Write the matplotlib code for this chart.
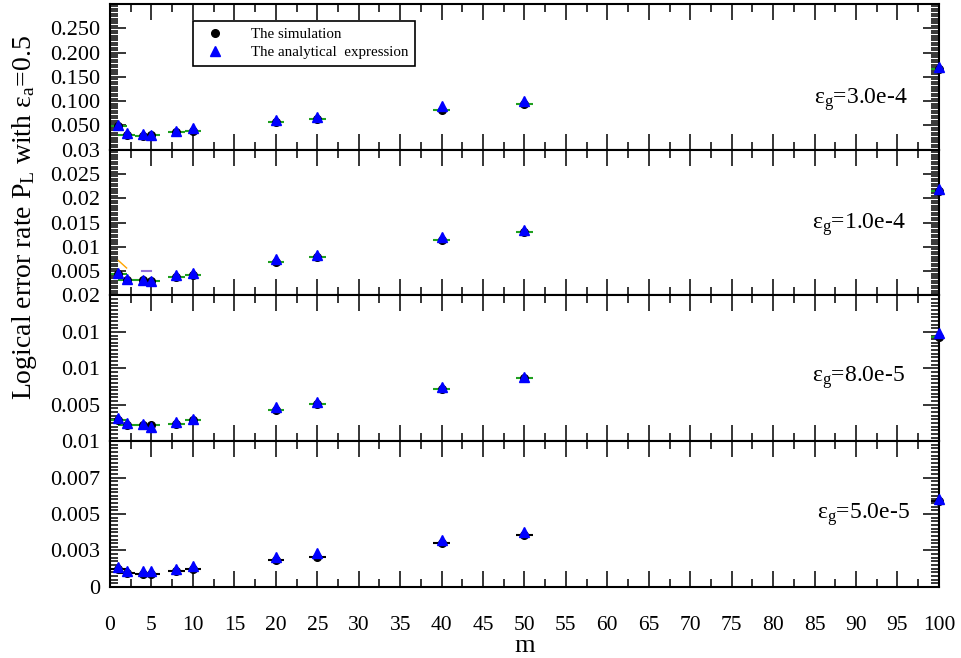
import numpy as np
import matplotlib
matplotlib.use('Agg')
import matplotlib.pyplot as plt
from matplotlib.ticker import FixedLocator, FixedFormatter, MultipleLocator, AutoMinorLocator

plt.rcParams['font.family'] = 'Liberation Serif'
plt.rcParams['mathtext.fontset'] = 'custom'
plt.rcParams['mathtext.rm'] = 'Liberation Serif'
plt.rcParams['mathtext.it'] = 'Liberation Serif:italic'

# m values
m = np.array([1, 2, 4, 5, 8, 10, 20, 25, 40, 50, 100])

# eps_g = 3.0e-4
sim_30e5 = [0.048, 0.031, 0.029, 0.030, 0.036, 0.039, 0.0565, 0.0635, 0.082, 0.0945, 0.166]
ana_30e5 = [0.050, 0.035, 0.0325, 0.030, 0.038, 0.045, 0.061, 0.068, 0.0896, 0.1007, 0.170]
# eps_g = 1.0e-4
sim_10e5 = [0.0044, 0.0031, 0.0031, 0.0029, 0.0038, 0.0043, 0.0069, 0.0079, 0.0114, 0.0130, 0.0215]
ana_10e5 = [0.0047, 0.00345, 0.00324, 0.0029, 0.0043, 0.0046, 0.0074, 0.0083, 0.0121, 0.01345, 0.0219]
# eps_g = 8.0e-5
sim_8e5 = [0.00286, 0.00227, 0.0022, 0.0022, 0.0024, 0.00286, 0.0043, 0.0051, 0.0072, 0.0087, 0.0143]
ana_8e5 = [0.00317, 0.00249, 0.0024, 0.00195, 0.0026, 0.0031, 0.00467, 0.00535, 0.0075, 0.0088, 0.01487]
# eps_g = 5.0e-5
sim_5e5 = [0.00121, 0.00098, 0.00089, 0.00087, 0.00112, 0.00121, 0.00185, 0.00208, 0.0030, 0.00356, 0.0059]
ana_5e5 = [0.00135, 0.00112, 0.0011, 0.0011, 0.00121, 0.00144, 0.00203, 0.0023, 0.0032, 0.0038, 0.0060]

# stray segments in the 1.0e-4 panel
orange_x = [1, 2]
orange_y = [0.0072, 0.00565]
purple_x = [3.9, 4.9]
purple_y = [0.0051, 0.0051]

panels = [
    (sim_30e5, ana_30e5, 'green', r'$\mathrm{\varepsilon_g}$=3.0e-4', 0.3,
     [0, 0.05, 0.1, 0.15, 0.2, 0.25, 0.3], ['', '0.050', '0.100', '0.150', '0.200', '0.250', ''],
     (0.849, 0.315)),
    (sim_10e5, ana_10e5, 'green', r'$\mathrm{\varepsilon_g}$=1.0e-4', 0.03,
     [0, 0.005, 0.01, 0.015, 0.02, 0.025, 0.03], ['', '0.005', '0.01', '0.015', '0.02', '0.025', '0.03'],
     (0.847, 0.46)),
    (sim_8e5, ana_8e5, 'green', r'$\mathrm{\varepsilon_g}$=8.0e-5', 0.02,
     [0, 0.005, 0.01, 0.015, 0.02], ['', '0.005', '0.01', '0.01', '0.02'],
     (0.847, 0.41)),
    (sim_5e5, ana_5e5, 'black', r'$\mathrm{\varepsilon_g}$=5.0e-5', 0.01,
     [0, 0.0025, 0.005, 0.0075, 0.01], ['0', '0.003', '0.005', '0.007', '0.01'],
     (0.853, 0.47)),
]

fig, axes = plt.subplots(4, 1, sharex=True, figsize=(9.61, 6.58), dpi=100)
fig.subplots_adjust(left=0.1145, right=0.977, bottom=0.108, top=0.994, hspace=0)

for i, (ax, (sim, ana, segc, lab, ymax, yt, ytl, tpos)) in enumerate(zip(axes, panels)):
    ax.hlines(sim, m - 1, m + 1, color=segc if segc != 'green' else '#20a020', lw=1.5, zorder=2)
    ax.plot(m, sim, 'o', color='black', ms=5.5, clip_on=False, zorder=3, label='The simulation')
    ax.plot(m, ana, '^', color='blue', ms=7, clip_on=False, zorder=4, label='The analytical  expression')
    if i == 1:
        ax.plot(orange_x, orange_y, color='orange', lw=1)
        ax.plot(purple_x, purple_y, color='mediumpurple', lw=1.5)
    ax.set_ylim(0, ymax)
    ax.set_xlim(0, 100)
    ax.yaxis.set_major_locator(FixedLocator(yt))
    ax.yaxis.set_major_formatter(FixedFormatter(ytl))
    ax.yaxis.set_minor_locator(AutoMinorLocator(10))
    ax.xaxis.set_major_locator(MultipleLocator(5))
    ax.xaxis.set_minor_locator(MultipleLocator(2.5))
    ax.tick_params(which='both', direction='in', top=True, right=True, width=1.1)
    ax.tick_params(which='major', length=11.5)
    ax.tick_params(which='minor', length=6)
    ax.tick_params(axis='y', labelsize=16, pad=7)
    ax.tick_params(axis='x', labelsize=15.5, pad=21)
    for s in ax.spines.values():
        s.set_linewidth(1.5)
    ax.text(tpos[0], tpos[1], lab, transform=ax.transAxes, fontsize=17, va='baseline', ha='left')

axes[0].legend(loc='upper left', bbox_to_anchor=(0.100, 0.883), borderaxespad=0, fontsize=10.8,
               fancybox=False, edgecolor='black', framealpha=1, handletextpad=1.4,
               labelspacing=0.3, borderpad=0.45, handlelength=2.0)
axes[0].get_legend().get_frame().set_linewidth(1.2)

axes[-1].set_xlabel('m', fontsize=19, labelpad=0)
fig.text(0.025, 0.669, r'Logical error rate P$_\mathrm{L}$ with ε$_\mathrm{a}$=0.5',
         rotation=90, fontsize=20, ha='center', va='center')

plt.savefig('out.png', dpi=100)
